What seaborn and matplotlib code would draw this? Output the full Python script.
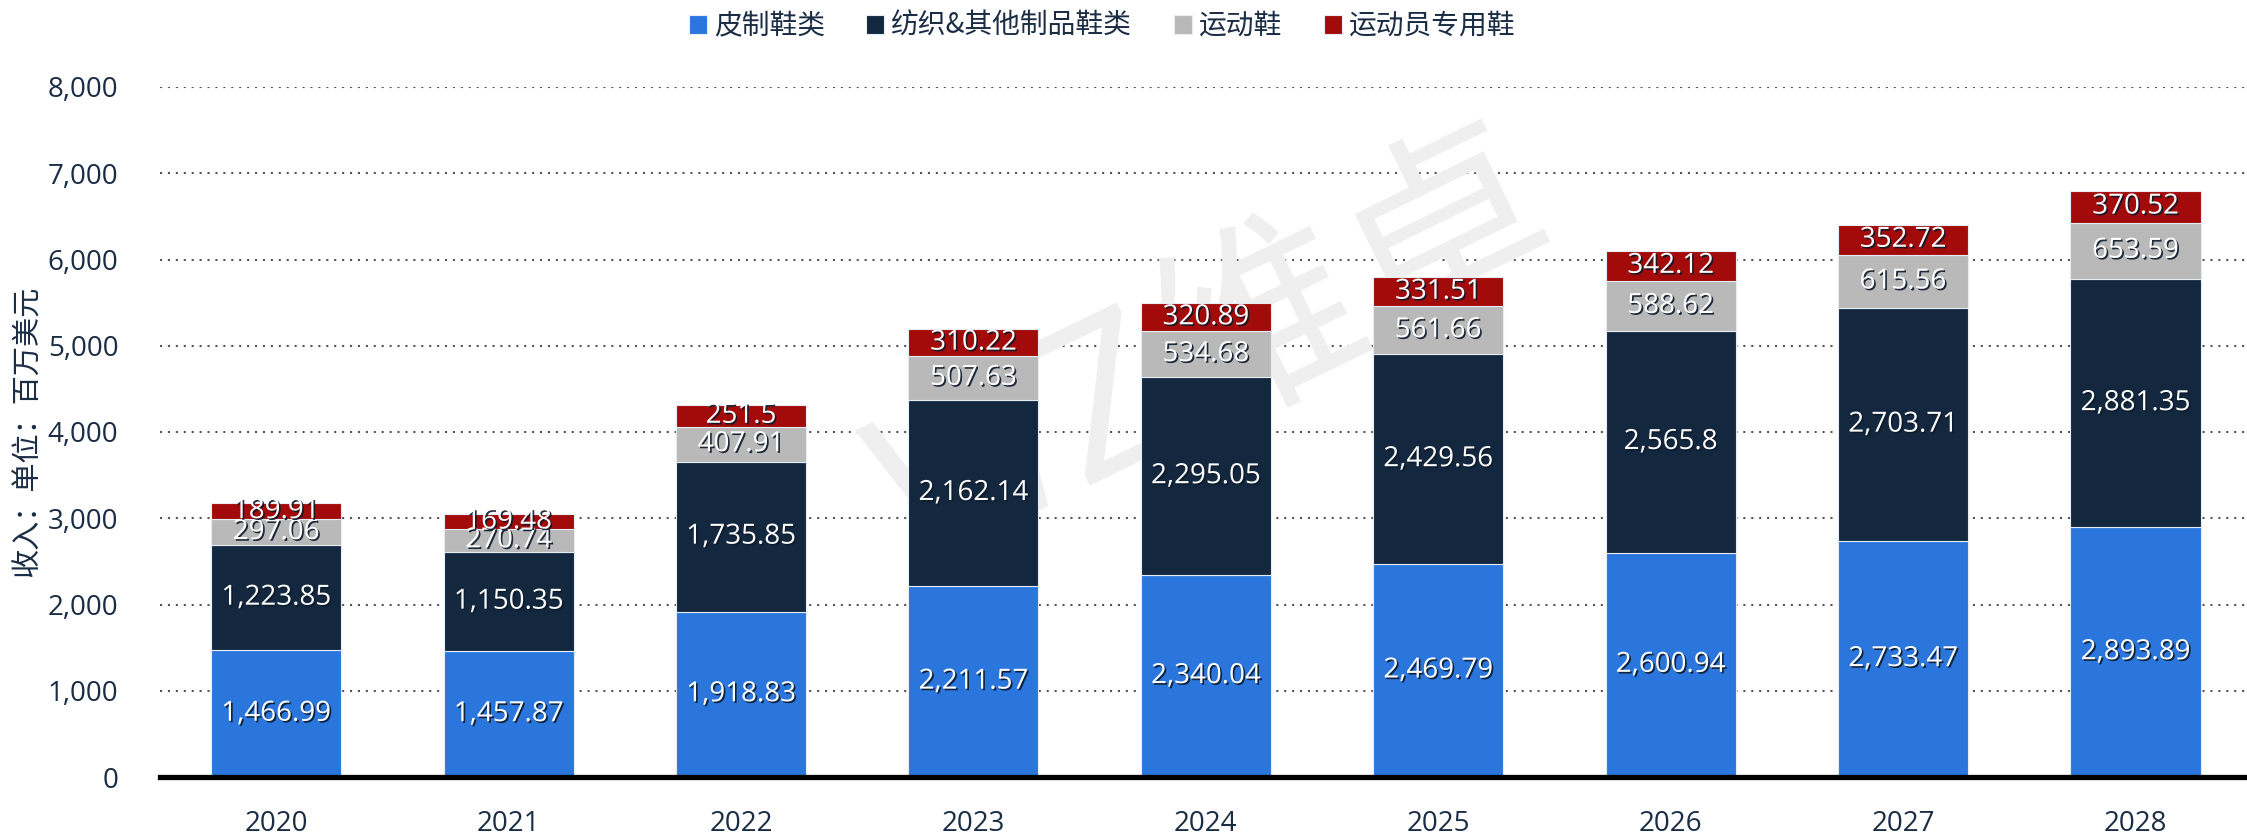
import numpy as np
import pandas as pd
import matplotlib
matplotlib.use("Agg")
import matplotlib.pyplot as plt
import matplotlib.patheffects as pe
from matplotlib.patches import Patch
from matplotlib.ticker import FuncFormatter
import seaborn as sns

# data
years = ["2020", "2021", "2022", "2023", "2024", "2025", "2026", "2027", "2028"]
leather = [1466.99, 1457.87, 1918.83, 2211.57, 2340.04, 2469.79, 2600.94, 2733.47, 2893.89]
textile = [1223.85, 1150.35, 1735.85, 2162.14, 2295.05, 2429.56, 2565.8, 2703.71, 2881.35]
sports = [297.06, 270.74, 407.91, 507.63, 534.68, 561.66, 588.62, 615.56, 653.59]
athlete = [189.91, 169.48, 251.5, 310.22, 320.89, 331.51, 342.12, 352.72, 370.52]

series_names = ["皮制鞋类", "纺织&其他制品鞋类", "运动鞋", "运动员专用鞋"]
colors = ["#2A76DD", "#13283F", "#B9B9B9", "#A30B0B"]
ylabel = "收入：单位：百万美元"

sns.set_style("white")
plt.rcParams['font.family'] = ['Open Sans', 'Noto Sans CJK SC', 'DejaVu Sans']
text_color = "#1B2D45"

fig = plt.figure(figsize=(22.47, 8.34), dpi=100)
ax = fig.add_axes([160 / 2247, 1 - 777 / 834, 1 - 160 / 2247, (777 - 87) / 834])

df = pd.DataFrame({"year": years, "leather": leather, "textile": textile,
                   "sports": sports, "athlete": athlete})
cols = ["leather", "textile", "sports", "athlete"]

bottom = np.zeros(len(years))
for col, c in zip(cols, colors):
    vals = df[col].to_numpy()
    sns.barplot(data=df, x="year", y=col, color=c, saturation=1, width=0.56,
                bottom=bottom, edgecolor="#e6ecf3", linewidth=0.8, zorder=3, ax=ax)
    for i, v in enumerate(vals):
        ax.text(i, bottom[i] + v / 2, f"{v:,}", ha="center", va="center",
                color="white", fontsize=20, family=['Open Sans', 'DejaVu Sans'], zorder=5,
                path_effects=[pe.withSimplePatchShadow(offset=(1.2, -1.2),
                                                       shadow_rgbFace="#0d1a2b", alpha=0.9)])
    bottom = bottom + vals

ax.set_xlim(-0.5, 8.48)
ax.set_ylim(0, 8000)
ax.set_yticks(range(0, 8001, 1000))
ax.yaxis.set_major_formatter(FuncFormatter(lambda v, p: f"{int(v):,}"))
ax.yaxis.grid(True, color="#555555", linewidth=1.5, linestyle=(0, (1, 2.8)), zorder=0)
ax.set_axisbelow(True)

for s in ["top", "right", "left"]:
    ax.spines[s].set_visible(False)
ax.spines["bottom"].set_color("black")
ax.spines["bottom"].set_linewidth(3.8)
ax.spines["bottom"].set_zorder(6)

ax.tick_params(axis="both", length=0, labelsize=20, colors=text_color)
ax.tick_params(axis="x", pad=24)
ax.tick_params(axis="y", pad=30)
ax.set_xlabel("")
ax.set_ylabel("")
fig.text(28 / 2247, 1 - 431 / 834, ylabel, rotation=90, ha="center", va="center",
         fontsize=21, color=text_color, family=['Noto Sans CJK SC', 'DejaVu Sans'])

# faint watermark, behind the bars
ax.text(1216 / 2247, 1 - 355 / 834, "WZ维卓", rotation=26, ha="center", va="center",
        fontsize=150, color="#efefef", family=['Noto Sans CJK SC', 'DejaVu Sans'],
        transform=fig.transFigure, zorder=2)

handles = [Patch(facecolor=c, edgecolor="#e6ecf3", linewidth=0.8) for c in colors]
fig.legend(handles, series_names, loc="center", bbox_to_anchor=(1102 / 2247, 1 - 26 / 834),
           ncol=4, frameon=False, handlelength=0.65, handleheight=0.7,
           handletextpad=0.25, columnspacing=1.5,
           prop={'family': ['Noto Sans CJK SC', 'DejaVu Sans'], 'size': 20},
           labelcolor=text_color)

fig.savefig("out.png", dpi=100)
